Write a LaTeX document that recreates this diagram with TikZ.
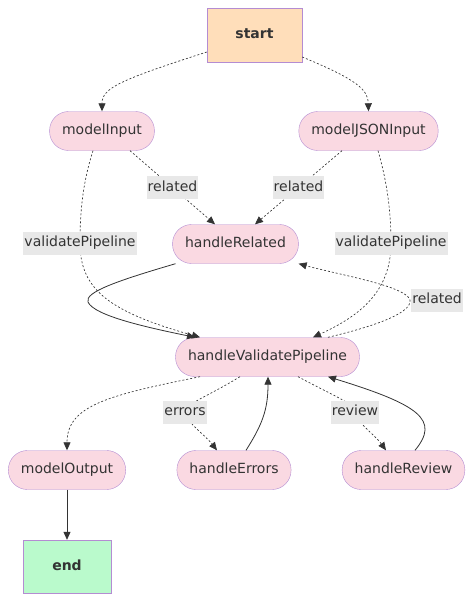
\documentclass[tikz,border=0pt]{standalone}
\usepackage{fontspec}
\setmainfont{DejaVu Sans}
\usepackage{tikz}
\usetikzlibrary{calc, positioning, arrows.meta}
\usepackage{xcolor}
\definecolor{stepFill}{RGB}{250, 217, 226}
\definecolor{stepLine}{RGB}{180, 140, 210}
\definecolor{startFill}{RGB}{255, 222, 186}
\definecolor{endFill}{RGB}{186, 250, 204}
\definecolor{ink}{RGB}{51, 51, 51}
\definecolor{lblGray}{RGB}{232, 232, 232}

\begin{document}
\begin{tikzpicture}[x=1pt, y=-1pt,
    stepbox/.style={draw=stepLine, fill=stepFill, rounded corners=19pt, minimum height=39pt,
      inner xsep=12.5pt, text=ink, font=\fontsize{14}{16}\selectfont, text height=10.5pt, text depth=3pt},
    termbox/.style={draw=stepLine, text=ink, font=\fontsize{14}{16}\selectfont\bfseries,
      text height=10.5pt, text depth=3pt},
    lbl/.style={fill=lblGray, text=ink, font=\fontsize{14}{16}\selectfont, inner xsep=1pt,
      inner ysep=4.75pt, text height=10.5pt, text depth=3pt},
    flow/.style={draw=ink, line width=0.8pt, -{Triangle[length=8pt, width=7pt]}},
    cond/.style={flow, line width=0.65pt, dash pattern=on 2pt off 2pt}]
  \useasboundingbox (0,0) rectangle (474,602);
  % nodes
  \node[termbox, fill=startFill, minimum width=95pt, minimum height=54pt] (start) at (254.5,35) {start};
  \node[stepbox] (mi) at (102,131) {modelInput};
  \node[stepbox] (mj) at (368.5,131) {modelJSONInput};
  \node[stepbox] (hr) at (235.5,244) {handleRelated};
  \node[stepbox] (hvp) at (267.5,357) {handleValidatePipeline};
  \node[stepbox] (mo) at (67,470) {modelOutput};
  \node[stepbox] (he) at (234,470) {handleErrors};
  \node[stepbox] (hrv) at (403.5,470) {handleReview};
  \node[termbox, fill=endFill, minimum width=88pt, minimum height=53pt] (end) at (67,566.5) {end};
  % from start
  \draw[cond] ([yshift=-17pt]start.west) .. controls (120,80) and (102,88) .. (mi.north);
  \draw[cond] ([yshift=-22pt]start.east) .. controls (358,80) and (368,90) .. (mj.north);
  % inputs
  \draw[cond] ([xshift=28pt]mi.south) -- node[lbl] {related} ([xshift=-20.5pt]hr.north);
  \draw[cond] ([xshift=-26.5pt]mj.south) -- node[lbl] {related} ([xshift=19.5pt]hr.north);
  \draw[cond] ([xshift=-9pt]mi.south) .. controls (82,185) and (80,215) .. (80,243)
    node[lbl] {validatePipeline} .. controls (80,290) and (110,312) .. ([xshift=-67.5pt]hvp.north);
  \draw[cond] ([xshift=9.5pt]mj.south) .. controls (388,185) and (391,215) .. (391,243)
    node[lbl] {validatePipeline} .. controls (391,290) and (362,315) .. ([xshift=45.5pt]hvp.north);
  % related loop
  \draw[flow] ([xshift=-60pt]hr.south) .. controls (120,280) and (84,292) .. (88,302)
    .. controls (94,316) and (150,328) .. ([xshift=-72.5pt]hvp.north);
  \draw[cond] ([xshift=60.5pt]hvp.north) .. controls (380,325) and (412,312) .. (410,300)
    node[lbl, anchor=west, xshift=1pt] {related} .. controls (406,286) and (340,275) .. (hr.south east);
  % outputs
  \draw[cond] ([xshift=-67.5pt]hvp.south) .. controls (110,395) and (67,405) .. (mo.north);
  \draw[cond] ([xshift=-27.5pt]hvp.south) .. controls (205,398) and (185,404) .. (185,412)
    node[lbl] {errors} .. controls (185,421) and (205,435) .. ([xshift=-17pt]he.north);
  \draw[flow] ([xshift=12pt]he.north) .. controls (262,425) and (268,410) .. ([xshift=0.5pt]hvp.south);
  \draw[cond] ([xshift=30.5pt]hvp.south) .. controls (338,398) and (355,404) .. (355,412)
    node[lbl] {review} .. controls (355,421) and (375,435) .. ([xshift=-17.5pt]hrv.north);
  \draw[flow] ([xshift=11.5pt]hrv.north) .. controls (440,420) and (420,405) .. ([xshift=60.5pt]hvp.south);
  \draw[flow] (mo) -- (end);
\end{tikzpicture}
\end{document}
